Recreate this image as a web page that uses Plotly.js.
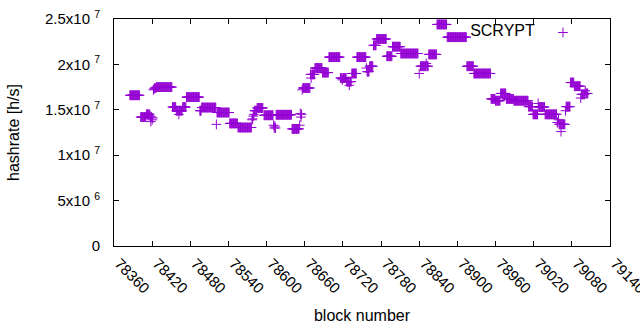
<!DOCTYPE html>
<html>
<head>
<meta charset="utf-8">
<script src="https://cdn.plot.ly/plotly-3.0.1.min.js"></script>
<style>html,body{margin:0;padding:0;background:#fff;}#chart{width:640px;height:330px;}</style>
</head>
<body>
<div id="chart"></div>
<script>
// Runs of consecutive blocks sharing one estimated hashrate (values in 1e6 h/s)
const runStart = [78385,78402,78411,78417,78418,78419,78420,78421,78422,78423,78424,78427,78452,78458,78462,78463,78468,78474,78495,78498,78521,78522,78542,78555,78577,78578,78579,78580,78581,78585,78596,78611,78612,78613,78614,78615,78640,78652,78653,78654,78655,78656,78657,78669,78670,78671,78676,78688,78698,78716,78719,78720,78726,78730,78731,78734,78742,78757,78758,78762,78768,78773,78789,78798,78811,78840,78842,78851,78852,78855,78868,78884,78915,78926,78953,78960,78968,78977,78989,79012,79019,79027,79028,79038,79057,79059,79060,79063,79064,79070,79071,79078,79084,79094,79095,79101,79102];
const runEnd   = [78400,78410,78416,78417,78418,78419,78420,78421,78422,78423,78426,78451,78457,78461,78462,78467,78473,78494,78497,78520,78521,78541,78554,78576,78577,78578,78579,78580,78584,78594,78610,78611,78612,78613,78614,78639,78651,78652,78653,78654,78655,78656,78668,78669,78670,78675,78687,78697,78715,78718,78719,78725,78729,78730,78733,78741,78756,78757,78761,78767,78772,78788,78797,78810,78838,78840,78850,78851,78854,78867,78883,78914,78925,78952,78959,78967,78976,78988,79011,79018,79026,79027,79037,79056,79058,79059,79062,79063,79069,79070,79077,79083,79093,79094,79100,79101,79105];
const runValue = [16.6,14.2,14.5,14.3,13.7,14.2,13.9,14.1,17.2,17.3,17.4,17.5,15.3,14.9,14.5,14.9,15.3,16.4,14.9,15.25,13.4,14.7,13.5,13.05,13.9,14.0,14.3,14.5,14.9,15.2,14.4,13.3,13.0,13.2,13.0,14.45,12.9,13.3,14.6,14.2,14.5,17.2,17.4,18.9,18.5,18.9,19.6,19.1,20.8,18.5,18.3,18.5,18.1,17.7,18.1,19.0,20.8,19.6,19.2,19.8,22.1,22.8,20.9,21.95,21.2,19.0,19.8,20.1,19.8,21.1,24.4,23.0,19.8,19.0,16.2,16.0,16.8,16.2,16.0,15.35,14.5,15.7,15.3,14.5,13.6,13.9,13.4,12.6,13.4,14.9,15.35,18.0,17.6,16.3,16.7,17.1,16.8];

const xTickVals = [78360,78420,78480,78540,78600,78660,78720,78780,78840,78900,78960,79020,79080,79140];
const xTickText = ['78360','78420','78480','78540','78600','78660','78720','78780','78840','78900','78960','79020','79080','79140'];
const yTickVals = [0,5e6,1e7,1.5e7,2e7,2.5e7];
const yTickText = ['0','5x10 <sup>6</sup>','1x10 <sup>7</sup>','1.5x10 <sup>7</sup>','2x10 <sup>7</sup>','2.5x10 <sup>7</sup>'];

const blocks = [], hashrate = [];
for (let r = 0; r < runStart.length; r++) {
  for (let b = runStart[r]; b <= runEnd[r]; b++) {
    blocks.push(b);
    hashrate.push(runValue[r] * 1e6);
  }
}

const color = '#9400d3';
const font = {family: 'Liberation Sans, Arial, sans-serif', size: 15, color: '#000'};

const trace = {
  x: blocks, y: hashrate, type: 'scatter', mode: 'markers', name: ' ',
  marker: {symbol: 'cross-thin', size: 7, color: color, line: {color: color, width: 1}},
  hoverinfo: 'x+y'
};

const layout = {
  width: 640, height: 330,
  margin: {l: 114, r: 30, t: 19, b: 84},
  paper_bgcolor: '#fff', plot_bgcolor: '#fff',
  font: font,
  showlegend: true,
  legend: {
    x: 0.714, y: 0.94, xanchor: 'left', yanchor: 'middle',
    bgcolor: 'rgba(0,0,0,0)', borderwidth: 0,
    font: {family: font.family, size: 16, color: '#000'},
    title: {text: 'SCRYPT', side: 'left', font: {family: font.family, size: 16, color: '#000'}}
  },
  xaxis: {
    range: [78360, 79140], tickmode: 'array', tickvals: xTickVals, ticktext: xTickText,
    tickangle: 45, ticks: 'inside', ticklen: 5, tickcolor: '#000',
    ticklabeloverflow: 'allow', ticklabelshift: 5, ticklabelstandoff: 2,
    showline: true, linecolor: '#000', linewidth: 1, mirror: 'allticks',
    showgrid: false, zeroline: false,
    tickfont: {family: font.family, size: 15, color: '#000'},
    title: {text: 'block number', font: {family: font.family, size: 16, color: '#000'}, standoff: 14}
  },
  yaxis: {
    range: [0, 2.5e7], tickmode: 'array', tickvals: yTickVals, ticktext: yTickText,
    ticks: 'inside', ticklen: 5, tickcolor: '#000',
    showline: true, linecolor: '#000', linewidth: 1, mirror: 'allticks',
    showgrid: false, zeroline: false,
    tickfont: {family: font.family, size: 15, color: '#000'},
    ticklabelstandoff: 10,
    title: {text: 'hashrate [h/s]', font: {family: font.family, size: 16, color: '#000'}, standoff: 21}
  }
};

Plotly.newPlot('chart', [trace], layout, {displayModeBar: false, staticPlot: true});
</script>
</body>
</html>
